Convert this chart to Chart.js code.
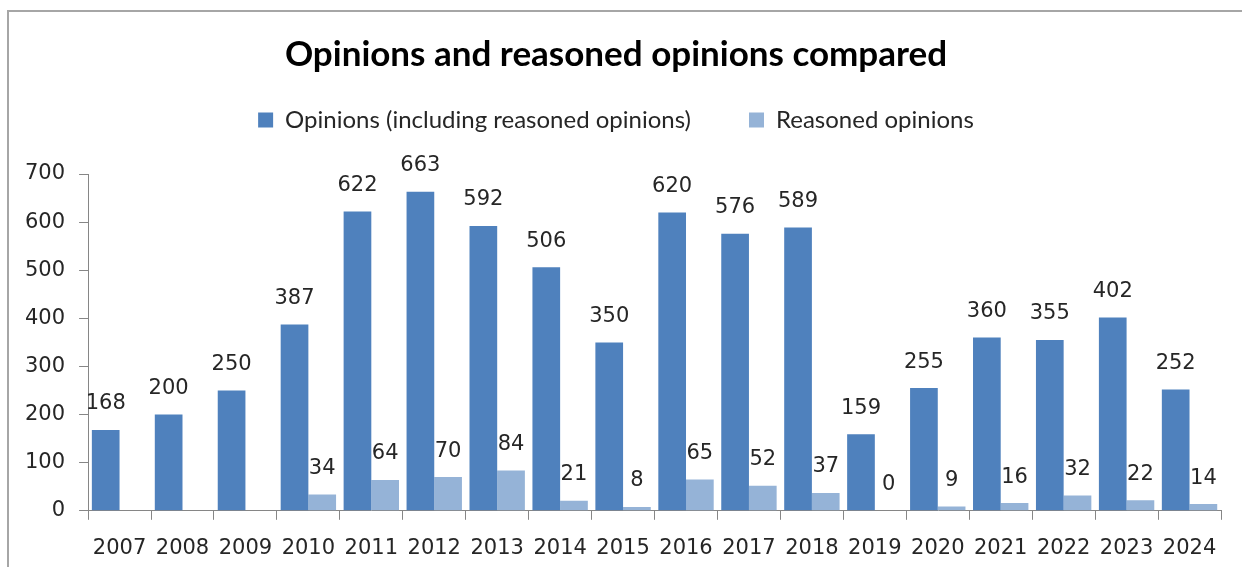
<!DOCTYPE html>
<html>
<head>
<meta charset="utf-8">
<script src="https://cdn.jsdelivr.net/npm/chart.js@4"></script>
<style>
  html, body { margin: 0; padding: 0; background: #fff; overflow: hidden; }
  #frame { position: absolute; left: 7px; top: 10px; width: 1300px; height: 600px;
           border-left: 2px solid #a6a6a6; border-top: 2px solid #a6a6a6; }
  #wrap { position: absolute; left: 0; top: 0; width: 1242px; height: 567px; }
</style>
</head>
<body>
<div id="frame"></div>
<div id="wrap"><canvas id="chart"></canvas></div>
<script>
// donnees
const years = ["2007", "2008", "2009", "2010", "2011", "2012", "2013", "2014", "2015",
               "2016", "2017", "2018", "2019", "2020", "2021", "2022", "2023", "2024"];
const opinions = [168, 200, 250, 387, 622, 663, 592, 506, 350, 620, 576, 589, 159, 255, 360, 355, 402, 252];
const reasoned = [null, null, null, 34, 64, 70, 84, 21, 8, 65, 52, 37, 0, 9, 16, 32, 22, 14];
const yTicks = [0, 100, 200, 300, 400, 500, 600, 700];

const numFont = "DejaVu Sans";
const axisColor = "#868686";

// etiquettes de valeur au-dessus des barres
const valueLabels = {
    id: 'valueLabels',
    afterDatasetsDraw(chart) {
        const ctx = chart.ctx;
        ctx.save();
        ctx.font = "21px '" + numFont + "'";
        ctx.fillStyle = "#262626";
        ctx.textAlign = "center";
        ctx.textBaseline = "middle";
        chart.data.datasets.forEach((ds, d) => {
            chart.getDatasetMeta(d).data.forEach((bar, i) => {
                const v = ds.data[i];
                if (v === null) return;
                ctx.fillText(String(v), bar.x, bar.y - 26);
            });
        });
        ctx.restore();
    }
};

new Chart(document.getElementById('chart'), {
    type: 'bar',
    data: {
        labels: years,
        datasets: [{
            label: "Opinions (including reasoned opinions)",
            data: opinions,
            backgroundColor: "#4F81BD",
            categoryPercentage: 0.88,
            barPercentage: 1
        }, {
            label: "Reasoned opinions",
            data: reasoned,
            backgroundColor: "#95B3D7",
            categoryPercentage: 0.88,
            barPercentage: 1
        }]
    },
    options: {
        responsive: true,
        maintainAspectRatio: false,
        animation: false,
        layout: { padding: { left: 11, right: 21, top: 0, bottom: -10 } },
        scales: {
            x: {
                grid: { drawOnChartArea: false, tickLength: 9, color: axisColor },
                border: { color: axisColor },
                ticks: { color: "#262626", font: { family: numFont, size: 21 }, padding: 16, maxRotation: 0 }
            },
            top: {
                type: 'category',
                axis: 'x',
                position: 'top',
                grid: { display: false },
                border: { display: false },
                ticks: { display: false },
                afterFit: s => { s.height = 32; }
            },
            y: {
                min: 0,
                max: 700,
                afterBuildTicks: s => { s.ticks = yTicks.map(v => ({ value: v })); },
                grid: { drawOnChartArea: false, tickLength: 9, color: axisColor },
                border: { color: axisColor },
                ticks: { color: "#262626", font: { family: numFont, size: 21 }, padding: 14 }
            }
        },
        plugins: {
            title: {
                display: true,
                text: "Opinions and reasoned opinions compared",
                color: "#000",
                font: { family: "Lato", size: 35, weight: 'bold' },
                padding: { top: 34, bottom: -26 }
            },
            legend: {
                labels: {
                    boxWidth: 15,
                    boxHeight: 15,
                    padding: 58,
                    color: "#262626",
                    font: { family: "Lato", size: 24 }
                }
            },
            tooltip: { enabled: false }
        }
    },
    plugins: [valueLabels]
});
</script>
</body>
</html>
